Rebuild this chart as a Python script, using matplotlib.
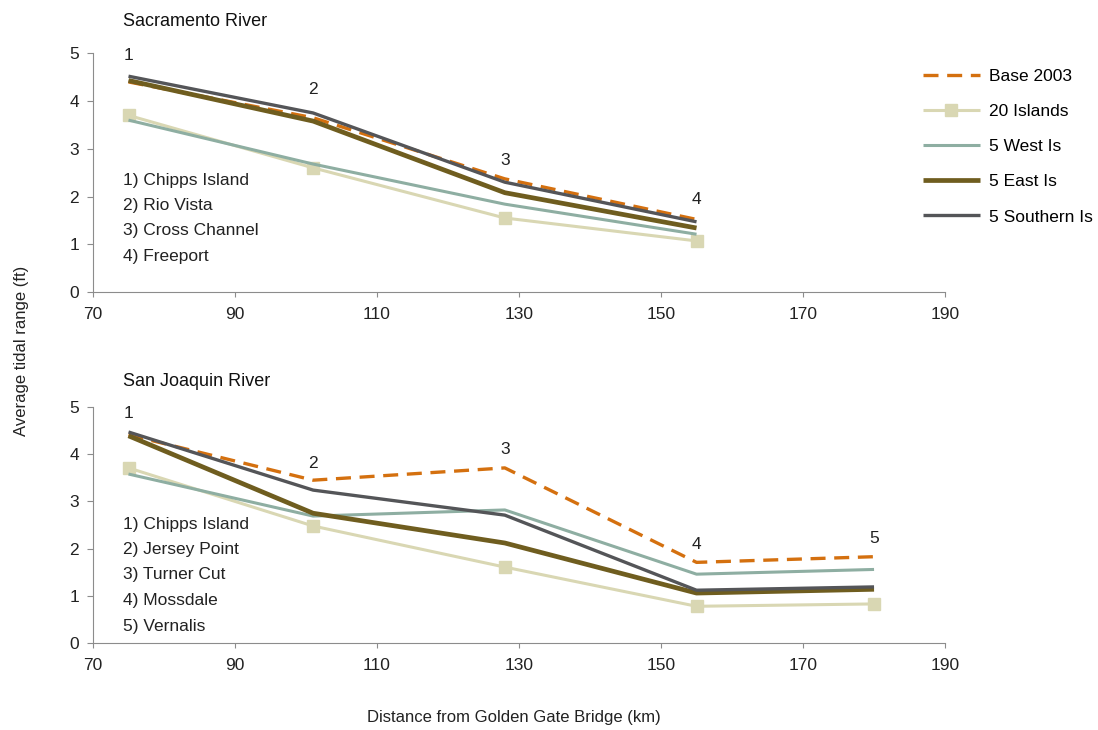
import numpy as np
import matplotlib.pyplot as plt

plt.rcParams['font.family'] = ['Liberation Sans', 'DejaVu Sans']

# data: distance from Golden Gate Bridge (km) and average tidal range (ft)
sac_km = [75, 101, 128, 155]
sac_names = ['1) Chipps Island', '2) Rio Vista', '3) Cross Channel', '4) Freeport']
sac_base = [4.40, 3.65, 2.37, 1.52]
sac_20is = [3.70, 2.60, 1.55, 1.07]
sac_west = [3.60, 2.68, 1.84, 1.21]
sac_east = [4.43, 3.58, 2.08, 1.34]
sac_south = [4.52, 3.75, 2.30, 1.47]
sac_lab_y = [4.96, 4.25, 2.76, 1.93]

sj_km = [75, 101, 128, 155, 180]
sj_names = ['1) Chipps Island', '2) Jersey Point', '3) Turner Cut', '4) Mossdale', '5) Vernalis']
sj_base = [4.41, 3.45, 3.71, 1.71, 1.83]
sj_20is = [3.71, 2.48, 1.61, 0.78, 0.83]
sj_west = [3.58, 2.69, 2.82, 1.46, 1.56]
sj_east = [4.39, 2.75, 2.12, 1.06, 1.14]
sj_south = [4.47, 3.24, 2.71, 1.12, 1.19]
sj_lab_y = [4.87, 3.81, 4.09, 2.08, 2.22]

series = ['Base 2003', '20 Islands', '5 West Is', '5 East Is', '5 Southern Is']
styles = [
    dict(color='#D4700F', lw=2.4, ls=(0, (4.5, 2.6))),
    dict(color='#D9D7B3', lw=2.2, marker='s', ms=8),
    dict(color='#8EAEA2', lw=2.2),
    dict(color='#6F5D1F', lw=3.4),
    dict(color='#545558', lw=2.4),
]

fig = plt.figure(figsize=(10.98, 7.30), dpi=100)
ax1 = fig.add_axes([0.0847, 0.600, 0.776, 0.327])
ax2 = fig.add_axes([0.0847, 0.119, 0.776, 0.3235])


def draw(ax, km, vals, names, laby, title, ty, y0):
    lines = []
    for v, st in zip(vals, styles):
        ln, = ax.plot(km, v, solid_capstyle='butt', **st)
        lines.append(ln)
    # station numbers
    for i, (x, y) in enumerate(zip(km, laby)):
        ax.text(x, y, str(i + 1), ha='center', va='center', fontsize=12.5, color='#222222')
    ax.set_xlim(70, 190)
    ax.set_ylim(0, 5)
    ax.set_xticks(np.arange(70, 191, 20))
    ax.set_yticks(range(0, 6))
    for s in ['top', 'right']:
        ax.spines[s].set_visible(False)
    for s in ['left', 'bottom']:
        ax.spines[s].set_color('#8c8c8c')
    ax.tick_params(colors='#8c8c8c', labelcolor='#222222', labelsize=12.5)
    ax.tick_params(axis='x', length=3.5, pad=7)
    ax.tick_params(axis='y', length=4, pad=6)
    fig.text(0.112, ty, title, fontsize=13, color='#111111', va='center')
    # station list
    for i, n in enumerate(names):
        fig.text(123 / 1098, 1 - (y0 + i * 25.5) / 730, n, fontsize=12.5,
                 color='#222222', va='center')
    return lines


lines = draw(ax1, sac_km, [sac_base, sac_20is, sac_west, sac_east, sac_south],
             sac_names, sac_lab_y, 'Sacramento River', 0.97, 180)
draw(ax2, sj_km, [sj_base, sj_20is, sj_west, sj_east, sj_south],
     sj_names, sj_lab_y, 'San Joaquin River', 0.478, 524)

fig.legend(lines, series, loc='upper left', bbox_to_anchor=(0.826, 0.927),
           frameon=False, fontsize=12.5, handlelength=3.3, labelspacing=1.15,
           handletextpad=0.5)

fig.text(0.02, 0.52, 'Average tidal range (ft)', rotation=90, ha='center', va='center',
         fontsize=12, color='#222222')
fig.text(0.468, 0.017, 'Distance from Golden Gate Bridge (km)', ha='center', va='center',
         fontsize=12, color='#222222')

fig.savefig('out.png', dpi=100)
